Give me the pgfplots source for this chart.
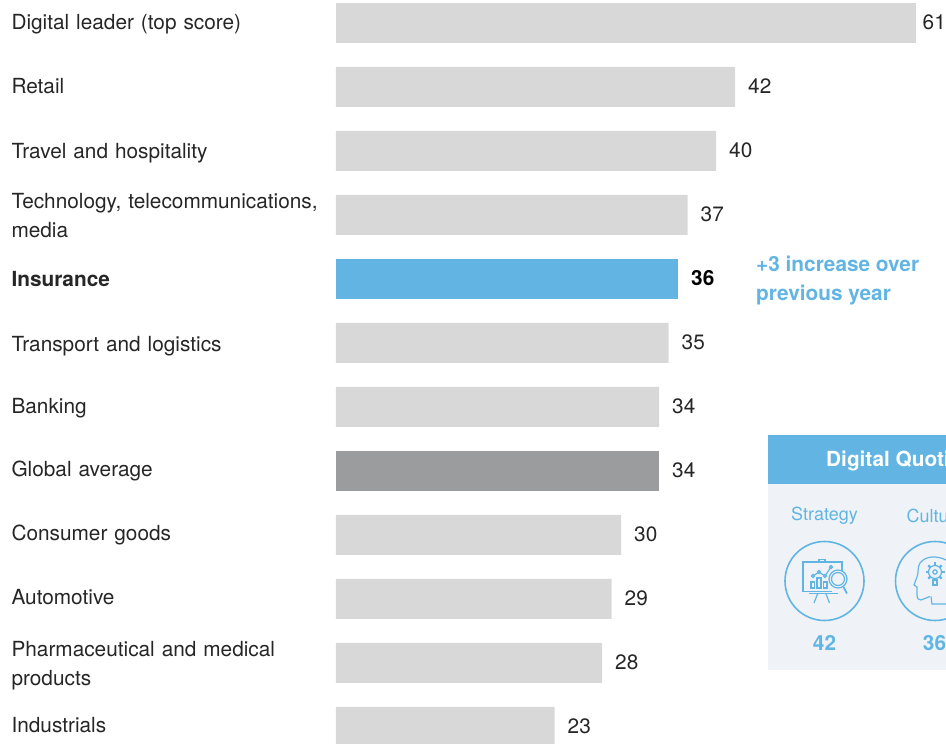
\documentclass[border=0pt]{standalone}
\usepackage{pgfplots}
\pgfplotsset{compat=1.18}
\usepackage{fontspec}
\setmainfont{TeX Gyre Heros}
\definecolor{barlight}{HTML}{D9D8D9}
\definecolor{bardark}{HTML}{9B9C9E}
\definecolor{accent}{HTML}{62B5E3}
\definecolor{panel}{HTML}{EFF3F7}
\definecolor{ink}{HTML}{262626}
\begin{document}
\begin{tikzpicture}
\path[use as bounding box, clip] (0,0) rectangle (946pt,744pt);
\begin{axis}[
  at={(336pt,0pt)}, anchor=south west,
  scale only axis, width=610pt, height=744pt,
  xbar, bar width=40pt, bar shift=0pt,
  xmin=0, xmax=64.21,
  ymin=-0.359, ymax=11.266, y dir=reverse,
  axis line style={draw=none},
  tick style={draw=none},
  xtick=\empty,
  % label rows are nudged a little off the bar centres
  ytick={0.016,0.984,2.031,3.016,4,5.047,6.016,7,8,8.969,10.047,10.969},
  yticklabels={
    Digital leader (top score),
    Retail,
    Travel and hospitality,
    {Technology, telecommunications,\\media},
    \textbf{Insurance},
    Transport and logistics,
    Banking,
    Global average,
    Consumer goods,
    Automotive,
    {Pharmaceutical and medical\\products},
    Industrials},
  yticklabel style={text width=318pt, align=left, anchor=east, inner sep=0pt,
    xshift=-2pt, font=\fontsize{20.8}{29}\selectfont, text=ink},
  clip=false,
  nodes near coords, point meta=explicit symbolic,
  nodes near coords style={anchor=west, inner sep=0pt, xshift=13pt, yshift=1pt,
    font=\fontsize{20.8}{24}\selectfont, text=ink},
]
\addplot[draw=none, fill=barlight] coordinates {
  (42,1)[42] (40,2)[40] (37,3)[37] (35,5)[35] (34,6)[34]
  (30,8)[30] (29,9)[29] (28,10)[28] (23,11)[23]};
% the top bar's label sits closer to the bar so that it stays on the page
\addplot[draw=none, fill=barlight, nodes near coords style={xshift=-6pt}] coordinates {(61,0)[61]};
\addplot[draw=none, fill=accent] coordinates {(36,4)[\textcolor{black}{\textbf{36}}]};
\addplot[draw=none, fill=bardark] coordinates {(34,7)[34]};
\end{axis}
\begin{scope}[x=1pt, y=-1pt, yshift=744pt]
  \node[anchor=west, inner sep=0pt, align=left, text=accent,
    font=\fontsize{20.8}{29}\selectfont\bfseries] at (756,280.5) {+3 increase over\\previous year};
  % Digital Quotient panel
  \fill[panel] (768,484) rectangle (946,670.5);
  \fill[accent] (768,435) rectangle (946,484);
  \node[anchor=west, inner sep=0pt, text=white, font=\fontsize{20.8}{24}\selectfont\bfseries] at (826,461) {Digital Quotient};
  \node[text=accent, inner sep=0pt, font=\fontsize{18}{22}\selectfont] at (824.5,516) {Strategy};
  \node[anchor=west, text=accent, inner sep=0pt, font=\fontsize{18}{22}\selectfont] at (906.5,516) {Culture};
  \node[text=accent, inner sep=0pt, font=\fontsize{20.8}{24}\selectfont\bfseries] at (824.5,643) {42};
  \node[text=accent, inner sep=0pt, font=\fontsize{20.8}{24}\selectfont\bfseries] at (934.5,643) {36};
  \begin{scope}[draw=accent, line width=1.2pt]
    \draw[line width=1.6pt] (824.5,581) circle (39.5);
    \draw[line width=1.6pt] (935,581) circle (39.5);
    % presentation board icon
    \draw (832,591.5) -- (803,591.5) -- (803,562) -- (842,562) -- (842,571);
    \draw (819,562) -- (819,559.5) -- (825,559.5) -- (825,562);
    \draw (809,593.5) -- (838,593.5);
    \draw (817.5,594) -- (814,603) (826,594) -- (829.5,603);
    \draw (811,582) rectangle (814.5,588) (817,578) rectangle (821,588) (823.5,582) rectangle (827,588);
    \draw (813,576) -- (819,572) -- (825,576) -- (831,567);
    \foreach \p in {(813,576),(819,572),(825,576),(831,567)} \filldraw[fill=panel] \p circle (1.5);
    \filldraw[fill=panel] (838,579) circle (9);
    \draw (838,579) circle (6.5);
    \draw[line width=1.8pt] (843.5,587) -- (847,593.5);
    % head and gear icon
    \draw (946,560) .. controls (938,556) and (926,555) .. (920,563)
       .. controls (917,568) and (919,572) .. (917,577) -- (914,585) -- (917,587)
       -- (917,595) .. controls (917,599) and (919,600) .. (921,600) -- (930,596.5);
    \draw (931,596.5) -- (932,604) -- (946,604);
    \draw (935,572) circle (6.5);
    \draw (935,572) circle (2.2);
    \foreach \a in {0,45,...,315} \draw[line width=2.2pt] (935,572) ++(\a:6.5) -- ++(\a:3);
    \draw (933,580) rectangle (937,585);
  \end{scope}
\end{scope}
\end{tikzpicture}
\end{document}
